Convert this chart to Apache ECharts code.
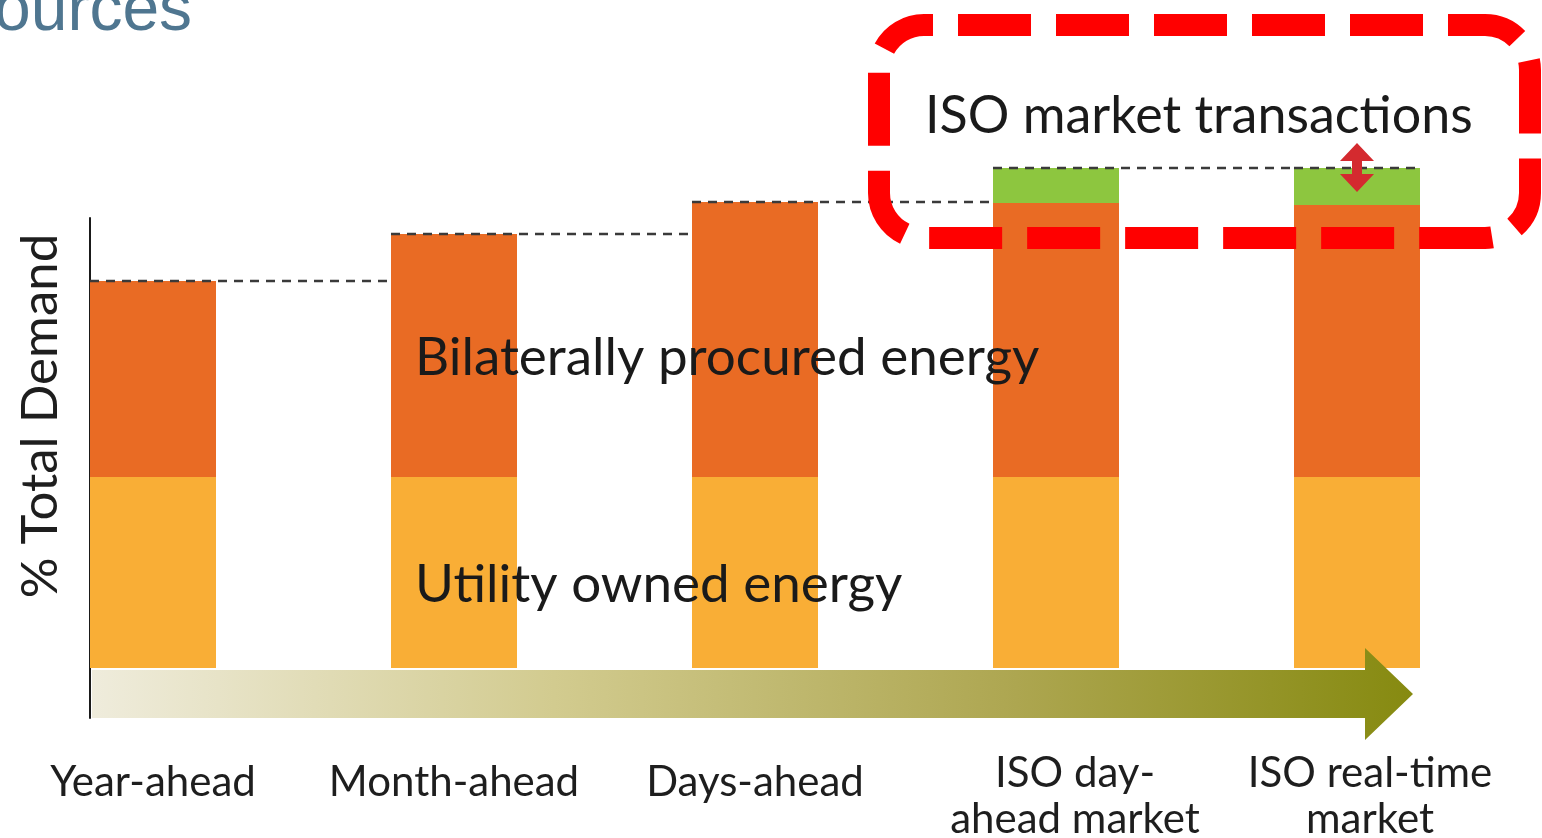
<!DOCTYPE html>
<html>
<head>
<meta charset="utf-8">
<script src="https://cdn.jsdelivr.net/npm/echarts@6/dist/echarts.min.js"></script>
<style>
html,body{margin:0;padding:0;background:#fff;}
#chart{width:1542px;height:838px;}
</style>
</head>
<body>
<div id="chart"></div>
<script>
// ---- data (% of total demand) ----
const categories = ['Year-ahead', 'Month-ahead', 'Days-ahead', 'ISO day-\nahead market', 'ISO real-time\nmarket'];
const utilityOwned = [38.2, 38.2, 38.2, 38.2, 38.2];
const bilateral = [39.2, 48.6, 55.0, 54.8, 54.4];
const isoMarket = [0, 0, 0, 7.0, 7.4];
const seriesNames = ['Utility owned energy', 'Bilaterally procured energy', 'ISO market transactions'];
const yAxisName = '% Total Demand';
const titleText = 'ources';

const totals = categories.map((c, i) => utilityOwned[i] + bilateral[i] + isoMarket[i]);

const FONT = 'Lato';
const chart = echarts.init(document.getElementById('chart'));

const BAR_W = 126;
const base = { fontFamily: FONT, fontSize: 42, color: '#1e1e1e' };
const rich = {
  t3: Object.assign({}, base, { lineHeight: 74, verticalAlign: 'bottom', padding: [0, 0, 0, 38] }),
  b3: Object.assign({}, base, { lineHeight: 50, padding: [0, 0, 0, 38] }),
  t4: Object.assign({}, base, { lineHeight: 74, verticalAlign: 'bottom', padding: [0, 0, 0, 26] }),
  b4: Object.assign({}, base, { lineHeight: 50, padding: [0, 0, 0, 26] })
};

chart.setOption({
  animation: false,
  backgroundColor: '#ffffff',
  grid: { left: 2.5, right: 34.5, top: 218, bottom: 120, containLabel: false, outerBoundsMode: 'none' },
  xAxis: {
    type: 'category',
    data: categories,
    axisLine: { show: false },
    axisTick: { show: false },
    axisLabel: {
      color: '#1e1e1e', fontFamily: FONT, fontSize: 42, lineHeight: 50,
      verticalAlign: 'middle', margin: 64, interval: 0,
      rich: rich,
      formatter: function (v, i) {
        const parts = v.split('\n');
        if (parts.length < 2) return v;
        return '{t' + i + '|' + parts[0] + '}\n{b' + i + '|' + parts[1] + '}';
      }
    }
  },
  yAxis: {
    type: 'value', min: -10, max: 90,
    offset: -87.5,
    axisLine: { show: true, lineStyle: { color: '#1a1a1a', width: 2 } },
    axisTick: { show: false },
    axisLabel: { show: false },
    splitLine: { show: false },
    name: yAxisName,
    nameLocation: 'middle',
    nameRotate: 90,
    nameGap: 24,
    nameTextStyle: { color: '#1e1e1e', fontFamily: FONT, fontSize: 51, padding: [0, 0, 0, 104] }
  },
  series: [
    { name: seriesNames[0], type: 'bar', stack: 'd', data: utilityOwned, barWidth: BAR_W, clip: false,
      itemStyle: { color: '#F9AE36' } },
    { name: seriesNames[1], type: 'bar', stack: 'd', data: bilateral, barWidth: BAR_W, clip: false,
      itemStyle: { color: '#E96B24' } },
    { name: seriesNames[2], type: 'bar', stack: 'd', data: isoMarket, barWidth: BAR_W, clip: false,
      itemStyle: { color: '#8DC63F' } },
    { type: 'custom', clip: false, z: 5,
      data: totals.map((t, i) => [i, t]),
      renderItem: function (params, api) {
        const i = api.value(0), t = api.value(1);
        const p = api.coord([i, t]);
        const x1 = p[0] - BAR_W / 2;
        let x2;
        if (i < categories.length - 1) x2 = api.coord([i + 1, t])[0] - BAR_W / 2;
        else x2 = p[0] + BAR_W / 2;
        return { type: 'line', shape: { x1: x1, y1: p[1], x2: x2, y2: p[1] },
          style: { stroke: '#3a3a3a', lineWidth: 2.5, lineDash: [9, 7] } };
      }
    }
  ],
  graphic: [
    { type: 'text', x: -6, y: 45, z: 100,
      style: { text: titleText, font: '66px "Liberation Sans"', fill: '#4F7690', textVerticalAlign: 'bottom' } },
    { type: 'polygon', z: 100,
      shape: { points: [[92, 670], [1365, 670], [1365, 648], [1413, 694], [1365, 740], [1365, 718], [92, 718]] },
      style: { fill: new echarts.graphic.LinearGradient(0, 0, 1, 0, [
        { offset: 0, color: '#EFECDC' }, { offset: 0.35, color: '#D2CB8F' },
        { offset: 0.7, color: '#ADA650' }, { offset: 1, color: '#868A10' }]) } },
    { type: 'text', x: 415, y: 358, z: 100,
      style: { text: seriesNames[1], font: '53px ' + FONT, fill: '#1a1a1a', textVerticalAlign: 'middle' } },
    { type: 'text', x: 415, y: 585, z: 100,
      style: { text: seriesNames[0], font: '53px ' + FONT, fill: '#1a1a1a', textVerticalAlign: 'middle' } },
    { type: 'text', x: 925, y: 116, z: 100,
      style: { text: seriesNames[2], font: '52px ' + FONT, fill: '#1a1a1a', textVerticalAlign: 'middle' } },
    { type: 'polygon', z: 101,
      shape: { points: [[1357, 143], [1374, 161], [1362, 161], [1362, 174], [1374, 174], [1357, 192], [1340, 174], [1352, 174], [1352, 161], [1340, 161]] },
      style: { fill: '#D42A2F' } },
    { type: 'rect', z: 102,
      shape: { x: 879, y: 25, width: 651, height: 213, r: 45 },
      style: { fill: 'none', stroke: '#FF0000', lineWidth: 22, lineDash: [73, 25], lineDashOffset: 64 } }
  ]
});
</script>
</body>
</html>
